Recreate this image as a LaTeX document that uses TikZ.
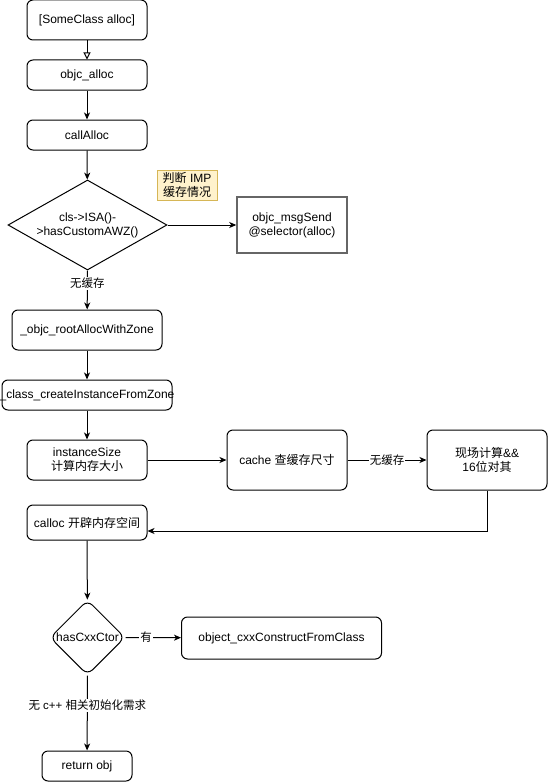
\documentclass[tikz,border=0pt]{standalone}
\usepackage{fontspec}
\setmainfont{Liberation Sans}
\newfontfamily\cjk{Noto Sans CJK SC}
\usetikzlibrary{arrows.meta, shapes.geometric, positioning}

\definecolor{notefill}{HTML}{FFF2CC}
\definecolor{noteline}{HTML}{D6B656}

\begin{document}
\begin{tikzpicture}[x=1pt,y=-1pt,line width=1pt,
  box/.style={draw, rounded corners=6pt, inner sep=0pt, align=center,
    font=\fontsize{12}{14}\selectfont},
  dia/.style={draw, diamond, inner sep=0pt},
  txt/.style={align=center, font=\fontsize{12}{14}\selectfont},
  lbl/.style={fill=white, inner sep=1pt, font=\fontsize{11.5}{13}\selectfont},
  arr/.style={-{Stealth[length=7pt,width=6pt,inset=2pt]}},
  openarr/.style={-{Triangle[open,length=7pt,width=7pt]}}]
  % \draw[help lines] (0,0) grid[step=50] (548,784);
  \useasboundingbox (0,0) rectangle (548,784);

  \node[box, minimum width=120, minimum height=40] (alloc) at (87,20) {[SomeClass alloc]};
  \node[box, minimum width=120, minimum height=30] (objcalloc) at (87,75) {objc\_alloc};
  \node[box, minimum width=120, minimum height=30] (callalloc) at (87,135) {callAlloc};
  \node[dia, minimum width=159, minimum height=90] (awz) at (87.5,225) {};
  \node[txt] at (awz) {cls->ISA()-\\>hasCustomAWZ()};
  \node[draw=black!60, line width=1.5pt, inner sep=0pt, minimum width=110, minimum height=56,
    txt] (msgsend) at (292,225) {objc\_msgSend\\@selector(alloc)};
  \node[draw=noteline, fill=notefill, inner sep=0pt, minimum width=60, minimum height=30,
    txt] (note) at (187,185) {{\cjk 判断} IMP\\{\cjk 缓存情况}};

  \node[box, minimum width=150, minimum height=40] (rootalloc) at (87,330) {\_objc\_rootAllocWithZone};
  \node[box, minimum width=170, minimum height=30] (createinst) at (87,395) {};
  \node[txt] at (createinst) {\_class\_createInstanceFromZone};
  \node[box, minimum width=120, minimum height=40] (instsize) at (87,460) {instanceSize\\{\cjk 计算内存大小}};
  \node[box, minimum width=120, minimum height=60] (cache) at (287,460) {cache {\cjk 查缓存尺寸}};
  \node[box, minimum width=120, minimum height=60] (calc) at (487,460) {{\cjk 现场计算}\&\&\\16{\cjk 位对其}};
  \node[box, minimum width=120, minimum height=35] (calloc) at (87,522.5) {calloc {\cjk 开辟内存空间}};

  \node[dia, rounded corners=7pt, minimum width=75, minimum height=75] (cxx) at (87.5,637.5) {};
  \node[txt] at (cxx) {hasCxxCtor};
  \node[box, minimum width=200, minimum height=42] (construct) at (281.5,638) {object\_cxxConstructFromClass};
  \node[box, minimum width=90, minimum height=30] (ret) at (87,766) {return obj};

  \draw[openarr] (alloc) -- (objcalloc);
  \draw[arr] (objcalloc) -- (callalloc);
  \draw[arr] (callalloc) -- (awz);
  \draw[arr] (awz.east) -- (msgsend);
  \draw[arr] (awz.south) -- node[lbl, pos=0.33] {\cjk 无缓存} (rootalloc);
  \draw[arr] (rootalloc) -- (createinst);
  \draw[arr] (createinst) -- (instsize);
  \draw[arr] (instsize) -- (cache);
  \draw[arr] (cache) -- node[lbl] {\cjk 无缓存} (calc);
  \draw[arr] (calc.south) |- ([yshift=-8.5pt]calloc.east);
  \draw[arr] (calloc) -- (cxx);
  \draw[arr] (cxx.east) -- node[lbl, pos=0.37] {\cjk 有} (construct);
  \draw[arr] (cxx.south) -- node[lbl, pos=0.4] {{\cjk 无} c++ {\cjk 相关初始化需求}} (ret);
\end{tikzpicture}
\end{document}
